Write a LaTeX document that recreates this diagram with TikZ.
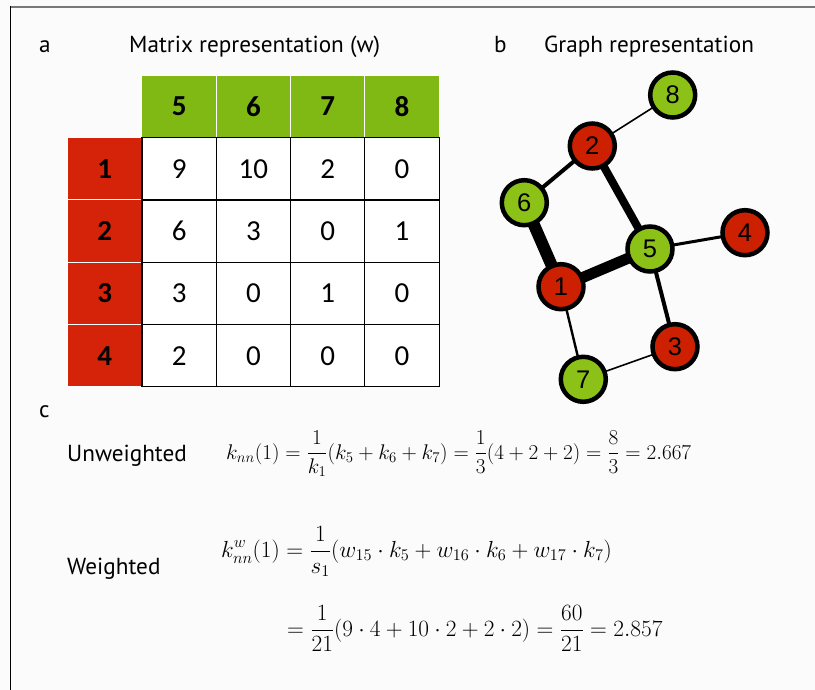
\RequirePackage{fix-cm}
\documentclass[tikz,border=0pt]{standalone}
\usepackage{amsmath}
\usepackage{fontspec}
\setmainfont{PT Sans}
\newfontfamily\calfont{Carlito}
\newfontfamily\arialfont{Liberation Sans}
\definecolor{mred}{RGB}{212,35,8}
\definecolor{mgreen}{RGB}{128,185,20}
\definecolor{nred}{RGB}{204,32,0}
\definecolor{ngreen}{RGB}{140,194,24}
\definecolor{bgc}{RGB}{251,251,251}
\definecolor{topline}{RGB}{120,120,120}
\tikzset{
  lbl/.style={anchor=base west, inner sep=0pt, font=\fontsize{23.2}{26}\selectfont},
  cellbox/.style={draw=black, line width=1.2pt, fill=white, minimum width=74.3pt, minimum height=62.3pt, inner sep=0pt, font=\calfont\fontsize{29}{30}\selectfont},
  hcell/.style={draw=white, line width=1pt, fill=mgreen, minimum width=74.3pt, minimum height=61.6pt, inner sep=0pt, font=\calfont\bfseries\fontsize{29}{30}\selectfont},
  rcell/.style={draw=white, line width=1pt, fill=mred, minimum width=73.3pt, minimum height=62.3pt, inner sep=0pt, font=\calfont\bfseries\fontsize{29}{30}\selectfont},
  gnode/.style={circle, draw=black, line width=4.5pt, minimum size=45pt, inner sep=0pt, font=\arialfont\fontsize{25.5}{27}\selectfont},
  rn/.style={gnode, fill=nred},
  gn/.style={gnode, fill=ngreen},
  fml/.style={anchor=base west, inner sep=0pt, font=\fontsize{21.2}{26}\selectfont},
  fmlb/.style={anchor=base west, inner sep=0pt, font=\fontsize{23.3}{28}\selectfont},
}
\begin{document}
\begin{tikzpicture}[x=1pt,y=-1pt]
\fill[bgc] (0,0) rectangle (815,690);
\useasboundingbox (0,0) rectangle (815,690);
% frame
\draw[topline, line width=2pt] (10,7) -- (815,7);
\draw[black, line width=1.5pt] (10.5,6) -- (10.5,690);
% labels
\node[lbl] (la) at (39,53) {a};
\node[lbl] (ta) at (129,53) {Matrix representation (w)};
\node[lbl] (lb) at (494,53) {b};
\node[lbl] (tb) at (544,53) {Graph representation};
\node[lbl] (lc) at (39,417) {c};
\node[lbl] (uw) at (67,461) {Unweighted};
\node[lbl] (ww) at (67,574) {Weighted};
% matrix header
\node[hcell] (h5) at (179.1,106.5) {5};
\node[hcell] (h6) at (253.4,106.5) {6};
\node[hcell] (h7) at (327.7,106.5) {7};
\node[hcell] (h8) at (402.0,106.5) {8};
\node[rcell] (r1) at (104.6,168.8) {1};
\node[rcell] (r2) at (104.6,231.1) {2};
\node[rcell] (r3) at (104.6,293.4) {3};
\node[rcell] (r4) at (104.6,355.7) {4};
% cells
\node[cellbox] (c15) at (179.1,168.8) {9};
\node[cellbox] (c16) at (253.4,168.8) {10};
\node[cellbox] (c17) at (327.7,168.8) {2};
\node[cellbox] (c18) at (402.0,168.8) {0};
\node[cellbox] (c25) at (179.1,231.1) {6};
\node[cellbox] (c26) at (253.4,231.1) {3};
\node[cellbox] (c27) at (327.7,231.1) {0};
\node[cellbox] (c28) at (402.0,231.1) {1};
\node[cellbox] (c35) at (179.1,293.4) {3};
\node[cellbox] (c36) at (253.4,293.4) {0};
\node[cellbox] (c37) at (327.7,293.4) {1};
\node[cellbox] (c38) at (402.0,293.4) {0};
\node[cellbox] (c45) at (179.1,355.7) {2};
\node[cellbox] (c46) at (253.4,355.7) {0};
\node[cellbox] (c47) at (327.7,355.7) {0};
\node[cellbox] (c48) at (402.0,355.7) {0};
% graph node positions (edges drawn beneath the nodes)
\coordinate (p8) at (672.7,95);
\coordinate (p2) at (592.3,146);
\coordinate (p6) at (524.3,202.7);
\coordinate (p5) at (650,249);
\coordinate (p4) at (745,232.7);
\coordinate (p1) at (561,286.7);
\coordinate (p3) at (675,346.7);
\coordinate (p7) at (583.3,379.3);
\draw[line width=1.6pt] (p8) -- (p2);
\draw[line width=4pt] (p2) -- (p6);
\draw[line width=8pt] (p2) -- (p5);
\draw[line width=12pt] (p6) -- (p1);
\draw[line width=11pt] (p1) -- (p5);
\draw[line width=3pt] (p5) -- (p4);
\draw[line width=4pt] (p5) -- (p3);
\draw[line width=2.4pt] (p1) -- (p7);
\draw[line width=1.6pt] (p7) -- (p3);
\node[gn] (n8) at (p8) {8};
\node[rn] (n2) at (p2) {2};
\node[gn] (n6) at (p6) {6};
\node[gn] (n5) at (p5) {5};
\node[rn] (n4) at (p4) {4};
\node[rn] (n1) at (p1) {1};
\node[rn] (n3) at (p3) {3};
\node[gn] (n7) at (p7) {7};
% formulas
\node[fml] (f1) at (226,459) {$\displaystyle k_{nn}(1)=\frac{1}{k_1}(k_5+k_6+k_7)=\frac{1}{3}(4+2+2)=\frac{8}{3}=2.667$};
\node[fmlb] (f2) at (221,557.5) {$\displaystyle k^w_{nn}(1)=\frac{1}{s_1}(w_{15}\cdot k_5+w_{16}\cdot k_6+w_{17}\cdot k_7)$};
\node[fmlb] (f3) at (287,636) {$\displaystyle =\frac{1}{21}(9\cdot 4+10\cdot 2+2\cdot 2)=\frac{60}{21}=2.857$};
\end{tikzpicture}
\end{document}
